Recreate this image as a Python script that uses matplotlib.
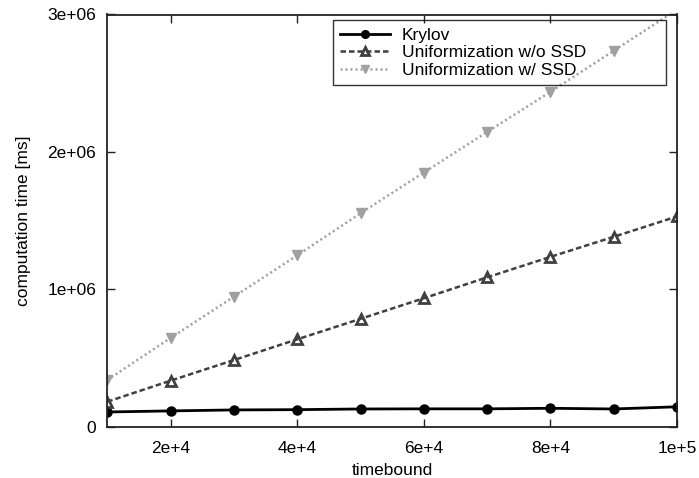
import matplotlib
matplotlib.use('Agg')
import matplotlib.pyplot as plt

plt.rcParams['font.family'] = ['Liberation Sans', 'DejaVu Sans']

# timebound values
timebound = [1e4, 2e4, 3e4, 4e4, 5e4, 6e4, 7e4, 8e4, 9e4, 1e5]

# computation time [ms]
krylov = [1.07e5, 1.15e5, 1.22e5, 1.24e5, 1.29e5, 1.30e5, 1.30e5, 1.34e5, 1.29e5, 1.45e5]
unif_no_ssd = [1.82e5, 3.35e5, 4.85e5, 6.36e5, 7.85e5, 9.35e5, 1.087e6, 1.236e6, 1.382e6, 1.530e6]
unif_ssd = [3.40e5, 6.46e5, 9.46e5, 1.247e6, 1.553e6, 1.850e6, 2.145e6, 2.437e6, 2.736e6, 3.035e6]

labels = ['Krylov', 'Uniformization w/o SSD', 'Uniformization w/ SSD']

xticks = [2e4, 4e4, 6e4, 8e4, 1e5]
xticklabels = ['2e+4', '4e+4', '6e+4', '8e+4', '1e+5']
yticks = [0, 1e6, 2e6, 3e6]
yticklabels = ['0', '1e+06', '2e+06', '3e+06']

fig = plt.figure(figsize=(6.99, 4.78), dpi=100)
W, H = 699.0, 478.0
ax = fig.add_axes([107.3 / W, 1 - 426.7 / H, 569.7 / W, 412.2 / H])

ax.plot(timebound, krylov, color='black', lw=2.0, marker='o', markersize=6.5,
        label=labels[0])
ax.plot(timebound, unif_no_ssd, color='#404040', lw=1.8, ls=(0, (2.2, 1.2)),
        marker='^', markersize=7, markerfacecolor='none', markeredgewidth=2.0,
        label=labels[1])
ax.plot(timebound, unif_ssd, color='#a0a0a0', lw=1.8, ls=(0, (0.8, 1.2)),
        marker='v', markersize=6.5, label=labels[2])

ax.set_xlim(1e4, 1e5)
ax.set_ylim(0, 3e6)
ax.set_xticks(xticks)
ax.set_xticklabels(xticklabels)
ax.set_yticks(yticks)
ax.set_yticklabels(yticklabels)
ax.tick_params(direction='in', length=6, width=1, top=True, right=True,
               labelsize=12.5, colors='#222222', labelcolor='black')
ax.tick_params(axis='y', pad=8)
ax.tick_params(axis='x', pad=10)
for sp in ax.spines.values():
    sp.set_linewidth(1.3)
    sp.set_color('#222222')

ax.set_xlabel('timebound', fontsize=12.5, labelpad=5)
ax.set_ylabel('computation time [ms]', fontsize=12.5, labelpad=12)

leg = ax.legend(loc='upper left', bbox_to_anchor=(0.3957, 0.986, 0.5845, 0.0),
                mode='expand', borderaxespad=0, fontsize=12.5, fancybox=False,
                facecolor='none', edgecolor='black', handlelength=2.9,
                handletextpad=0.65, labelspacing=0.14, borderpad=0.42,
                markerscale=0.85)
leg.get_frame().set_linewidth(1.0)

fig.savefig('out.png', dpi=100)
